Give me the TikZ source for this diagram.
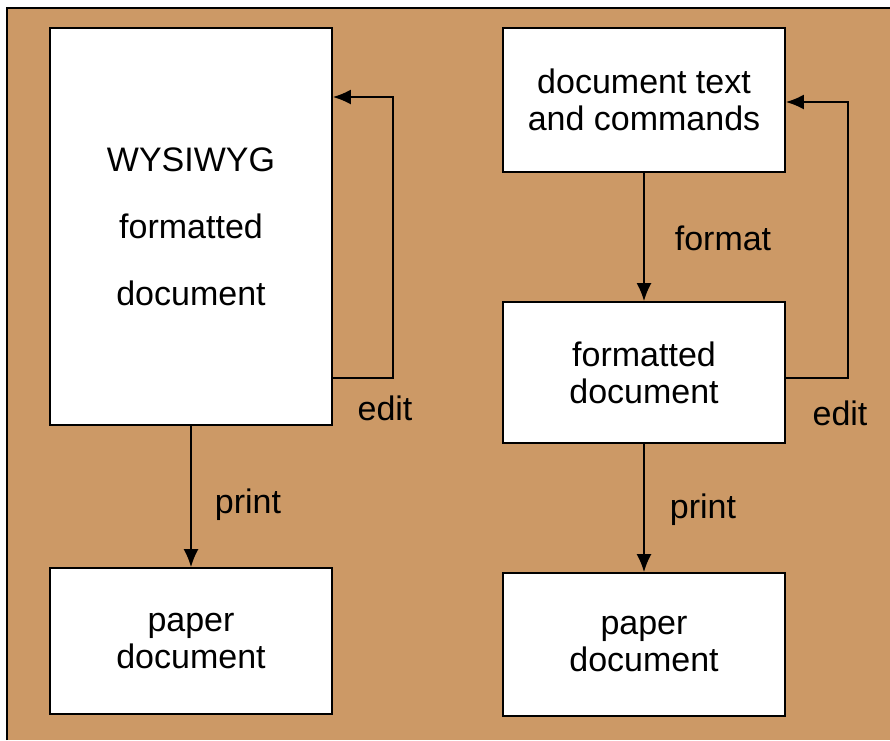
\documentclass[tikz,border=0pt]{standalone}
\usepackage{fontspec}
\setmainfont{Liberation Sans}
\usepackage{xcolor}
\usetikzlibrary{arrows.meta}
\definecolor{tan}{HTML}{CC9966}

\begin{document}
\begin{tikzpicture}[x=1pt,y=-1pt,
    box/.style={draw,line width=1.8pt,fill=white,align=center,inner sep=0pt,
      font=\fontsize{34}{37}\selectfont},
    lbl/.style={font=\fontsize{34}{37}\selectfont,inner sep=0pt},
    arr/.style={line width=1.8pt,-{Latex[length=18pt,width=15pt]}}]
    \useasboundingbox (0,0) rectangle (890,740);
    \fill[tan] (7,8) rectangle (890,740);
    \draw[line width=2pt] (7,740) -- (7,8) -- (890,8);
    % left: wysiwyg
    \node[box,minimum width=282pt,minimum height=397pt] (wys) at (191,226.5) {WYSIWYG\\[30pt]formatted\\[30pt]document};
    \node[box,minimum width=282pt,minimum height=146pt] (paperL) at (191,641) {paper\\document};
    \draw[arr] (wys) to (paperL);
    \node[lbl] (printL) at (248,505) {print};
    \coordinate (eL1) at (393,378);
    \coordinate (eL2) at (393,97);
    \draw[arr] (wys.east |- eL1) -- (eL1) -- (eL2) -- (wys.east |- eL2);
    \node[lbl] (editL) at (385,408) {edit};
    % right: markup
    \node[box,minimum width=282pt,minimum height=144pt] (src) at (644,100) {document text\\and commands};
    \node[box,minimum width=282pt,minimum height=141pt] (fmt) at (644,372.5) {formatted\\document};
    \node[box,minimum width=282pt,minimum height=143pt] (paperR) at (644,644.5) {paper\\document};
    \draw[arr] (src) to (fmt);
    \draw[arr] (fmt) to (paperR);
    \node[lbl] (format) at (723,238) {format};
    \node[lbl] (printR) at (703,510) {print};
    \coordinate (eR1) at (848,378);
    \coordinate (eR2) at (848,102);
    \draw[arr] (fmt.east |- eR1) -- (eR1) -- (eR2) -- (src.east |- eR2);
    \node[lbl] (editR) at (840,413) {edit};
\end{tikzpicture}
\end{document}
